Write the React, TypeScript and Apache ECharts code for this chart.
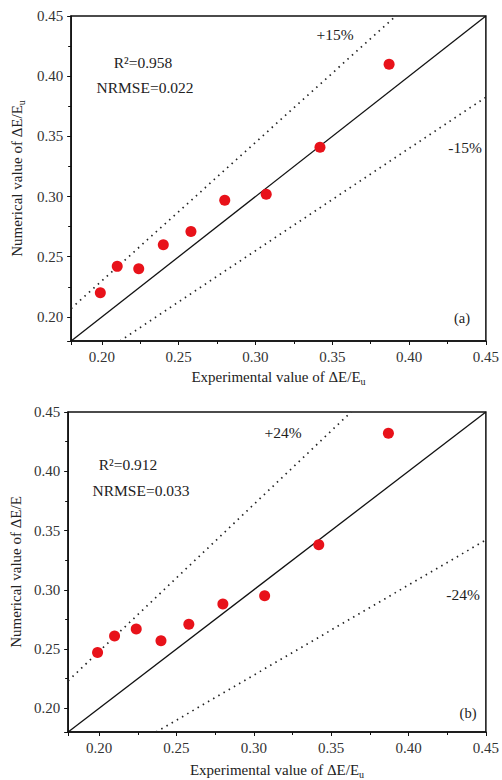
import React, { useEffect, useRef } from "react";
import * as echarts from "echarts";

const experimental = [0.199, 0.21, 0.224, 0.24, 0.258, 0.28, 0.307, 0.342, 0.387];
const numericalA = [0.22, 0.242, 0.24, 0.26, 0.271, 0.297, 0.302, 0.341, 0.41];
const numericalB = [0.247, 0.261, 0.267, 0.257, 0.271, 0.288, 0.295, 0.338, 0.432];
const axisMin = 0.18;
const axisMax = 0.45;
const bandA = 0.15;
const bandB = 0.24;

const FONT = "'Liberation Serif', 'Times New Roman', serif";

function bandLine(k: number) {
  // y = k*x clipped to the square [axisMin, axisMax]
  const x0 = Math.max(axisMin, axisMin / k);
  const x1 = Math.min(axisMax, axisMax / k);
  return [
    [x0, x0 * k],
    [x1, x1 * k],
  ];
}

function axisCommon(gridIndex: number) {
  return {
    type: "value",
    gridIndex,
    min: axisMin,
    max: axisMax,
    splitNumber: 5,
    axisLine: { show: true, lineStyle: { color: "#111", width: 1.5 } },
    axisTick: { show: true, length: 4, lineStyle: { color: "#111", width: 1 } },
    minorTick: { show: true, splitNumber: 2, length: 3, lineStyle: { color: "#111", width: 1 } },
    splitLine: { show: false },
    axisLabel: {
      showMinLabel: false,
      fontFamily: FONT,
      fontSize: 15,
      color: "#333",
      formatter: (v: number) => v.toFixed(2),
    },
  };
}

const nameRich = {
  n: { fontFamily: FONT, fontSize: 15, color: "#222", lineHeight: 18 },
  s: { fontFamily: FONT, fontSize: 10, color: "#222", lineHeight: 18, padding: [8, 0, 0, 0] },
};

function annot(x: number, y: number, text: string, size = 15.5) {
  return {
    type: "text",
    x,
    y,
    style: {
      text,
      fontFamily: FONT,
      fontSize: size,
      fill: "#222",
      align: "center",
      verticalAlign: "middle",
    },
  };
}

export default function App() {
  const ref = useRef<HTMLDivElement>(null);
  useEffect(() => {
    if (!ref.current) return;
    const chart = echarts.init(ref.current, null, { renderer: "svg" });
    const scatterStyle = { color: "#e8121a", opacity: 1 };
    const solid = { color: "#111", width: 1.3, type: "solid" as const };
    const dotted = { color: "#222", width: 1.7, type: [1.5, 4.5] };
    const lineSeries = (data: number[][], gi: number, style: any) => ({
      type: "line",
      xAxisIndex: gi,
      yAxisIndex: gi,
      data,
      symbol: "none",
      silent: true,
      lineStyle: style,
      clip: true,
      z: 2,
    });
    const scatter = (vals: number[], gi: number) => ({
      type: "scatter",
      xAxisIndex: gi,
      yAxisIndex: gi,
      symbolSize: 11,
      itemStyle: scatterStyle,
      z: 5,
      data: experimental.map((x, i) => [x, vals[i]]),
    });
    chart.setOption({
      animation: false,
      backgroundColor: "#fff",
      grid: [
        { left: 61, top: 16, width: 428, height: 325, show: true, borderColor: "#111", borderWidth: 1.5 },
        { left: 57, top: 412, width: 434, height: 324, show: true, borderColor: "#111", borderWidth: 1.5 },
      ],
      xAxis: [
        {
          ...axisCommon(0),
          name: "{n|Experimental value of ΔE/E}{s|u}",
          nameLocation: "middle",
          nameGap: 27,
          nameTextStyle: { rich: nameRich },
        },
        {
          ...axisCommon(1),
          name: "{n|Experimental value of ΔE/E}{s|u}",
          nameLocation: "middle",
          nameGap: 29,
          nameTextStyle: { rich: nameRich },
        },
      ],
      yAxis: [
        {
          ...axisCommon(0),
          name: "{n|Numerical value of ΔE/E}{s|u}",
          nameLocation: "middle",
          nameGap: 36,
          nameTextStyle: { rich: nameRich },
        },
        {
          ...axisCommon(1),
          name: "{n|Numerical value of ΔE/E}",
          nameLocation: "middle",
          nameGap: 37,
          nameTextStyle: { rich: nameRich },
        },
      ],
      series: [
        lineSeries(bandLine(1), 0, solid),
        lineSeries(bandLine(1 + bandA), 0, dotted),
        lineSeries(bandLine(1 - bandA), 0, dotted),
        scatter(numericalA, 0),
        lineSeries(bandLine(1), 1, solid),
        lineSeries(bandLine(1 + bandB), 1, dotted),
        lineSeries(bandLine(1 - bandB), 1, dotted),
        scatter(numericalB, 1),
      ],
      graphic: [
        annot(143, 62, "R²=0.958"),
        annot(145, 87, "NRMSE=0.022"),
        annot(335, 34, "+15%"),
        annot(465, 147, "-15%"),
        annot(462, 318, "(a)", 14.5),
        annot(128, 464, "R²=0.912"),
        annot(141, 490, "NRMSE=0.033"),
        annot(283, 432, "+24%"),
        annot(463, 594, "-24%"),
        annot(468, 713, "(b)", 14.5),
      ],
    });
    return () => chart.dispose();
  }, []);
  return (
    <div
      ref={ref}
      style={{ position: "fixed", left: 0, top: 0, width: 502, height: 780, background: "#fff" }}
    />
  );
}
